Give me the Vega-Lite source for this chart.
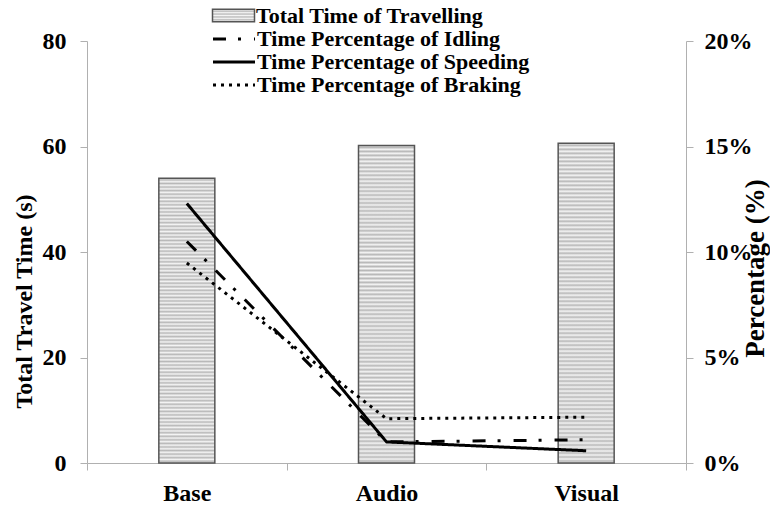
{
  "$schema": "https://vega.github.io/schema/vega-lite/v6.json",
  "width": 599,
  "height": 422,
  "autosize": "none",
  "padding": {"left": 87, "top": 41, "right": 84, "bottom": 44},
  "background": "white",
  "config": {
    "view": {"stroke": null},
    "font": "Liberation Serif",
    "axis": {
      "grid": false,
      "domainColor": "#b0b0b0",
      "tickColor": "#b0b0b0",
      "tickSize": 7,
      "labelFont": "Liberation Serif",
      "labelFontWeight": "bold",
      "labelFontSize": 24,
      "labelColor": "#000000",
      "titleFont": "Liberation Serif",
      "titleFontWeight": "bold",
      "titleFontSize": 24,
      "titleColor": "#000000"
    },
    "legend": {
      "labelFont": "Liberation Serif",
      "labelFontWeight": "bold",
      "labelFontSize": 22,
      "labelColor": "#000000",
      "labelLimit": 600
    }
  },
  "layer": [
    {
      "data": {
        "values": [
          {"cond": "Base", "time": 54.0, "label": "Total Time of Travelling"},
          {"cond": "Audio", "time": 60.2, "label": "Total Time of Travelling"},
          {"cond": "Visual", "time": 60.6, "label": "Total Time of Travelling"}
        ]
      },
      "mark": {
        "type": "bar",
        "width": 56,
        "strokeWidth": 1.5,
        "fill": {
          "gradient": "linear", "x1": 0, "y1": 0, "x2": 0, "y2": 1,
          "stops": [
            {"offset": 0, "color": "#f4f4f4"}, {"offset": 0.00625, "color": "#b8b8b8"}, {"offset": 0.0125, "color": "#f4f4f4"}, {"offset": 0.01875, "color": "#b8b8b8"}, {"offset": 0.025, "color": "#f4f4f4"}, {"offset": 0.03125, "color": "#b8b8b8"}, {"offset": 0.0375, "color": "#f4f4f4"}, {"offset": 0.04375, "color": "#b8b8b8"},
            {"offset": 0.05, "color": "#f4f4f4"}, {"offset": 0.05625, "color": "#b8b8b8"}, {"offset": 0.0625, "color": "#f4f4f4"}, {"offset": 0.06875, "color": "#b8b8b8"}, {"offset": 0.075, "color": "#f4f4f4"}, {"offset": 0.08125, "color": "#b8b8b8"}, {"offset": 0.0875, "color": "#f4f4f4"}, {"offset": 0.09375, "color": "#b8b8b8"},
            {"offset": 0.1, "color": "#f4f4f4"}, {"offset": 0.10625, "color": "#b8b8b8"}, {"offset": 0.1125, "color": "#f4f4f4"}, {"offset": 0.11875, "color": "#b8b8b8"}, {"offset": 0.125, "color": "#f4f4f4"}, {"offset": 0.13125, "color": "#b8b8b8"}, {"offset": 0.1375, "color": "#f4f4f4"}, {"offset": 0.14375, "color": "#b8b8b8"},
            {"offset": 0.15, "color": "#f4f4f4"}, {"offset": 0.15625, "color": "#b8b8b8"}, {"offset": 0.1625, "color": "#f4f4f4"}, {"offset": 0.16875, "color": "#b8b8b8"}, {"offset": 0.175, "color": "#f4f4f4"}, {"offset": 0.18125, "color": "#b8b8b8"}, {"offset": 0.1875, "color": "#f4f4f4"}, {"offset": 0.19375, "color": "#b8b8b8"},
            {"offset": 0.2, "color": "#f4f4f4"}, {"offset": 0.20625, "color": "#b8b8b8"}, {"offset": 0.2125, "color": "#f4f4f4"}, {"offset": 0.21875, "color": "#b8b8b8"}, {"offset": 0.225, "color": "#f4f4f4"}, {"offset": 0.23125, "color": "#b8b8b8"}, {"offset": 0.2375, "color": "#f4f4f4"}, {"offset": 0.24375, "color": "#b8b8b8"},
            {"offset": 0.25, "color": "#f4f4f4"}, {"offset": 0.25625, "color": "#b8b8b8"}, {"offset": 0.2625, "color": "#f4f4f4"}, {"offset": 0.26875, "color": "#b8b8b8"}, {"offset": 0.275, "color": "#f4f4f4"}, {"offset": 0.28125, "color": "#b8b8b8"}, {"offset": 0.2875, "color": "#f4f4f4"}, {"offset": 0.29375, "color": "#b8b8b8"},
            {"offset": 0.3, "color": "#f4f4f4"}, {"offset": 0.30625, "color": "#b8b8b8"}, {"offset": 0.3125, "color": "#f4f4f4"}, {"offset": 0.31875, "color": "#b8b8b8"}, {"offset": 0.325, "color": "#f4f4f4"}, {"offset": 0.33125, "color": "#b8b8b8"}, {"offset": 0.3375, "color": "#f4f4f4"}, {"offset": 0.34375, "color": "#b8b8b8"},
            {"offset": 0.35, "color": "#f4f4f4"}, {"offset": 0.35625, "color": "#b8b8b8"}, {"offset": 0.3625, "color": "#f4f4f4"}, {"offset": 0.36875, "color": "#b8b8b8"}, {"offset": 0.375, "color": "#f4f4f4"}, {"offset": 0.38125, "color": "#b8b8b8"}, {"offset": 0.3875, "color": "#f4f4f4"}, {"offset": 0.39375, "color": "#b8b8b8"},
            {"offset": 0.4, "color": "#f4f4f4"}, {"offset": 0.40625, "color": "#b8b8b8"}, {"offset": 0.4125, "color": "#f4f4f4"}, {"offset": 0.41875, "color": "#b8b8b8"}, {"offset": 0.425, "color": "#f4f4f4"}, {"offset": 0.43125, "color": "#b8b8b8"}, {"offset": 0.4375, "color": "#f4f4f4"}, {"offset": 0.44375, "color": "#b8b8b8"},
            {"offset": 0.45, "color": "#f4f4f4"}, {"offset": 0.45625, "color": "#b8b8b8"}, {"offset": 0.4625, "color": "#f4f4f4"}, {"offset": 0.46875, "color": "#b8b8b8"}, {"offset": 0.475, "color": "#f4f4f4"}, {"offset": 0.48125, "color": "#b8b8b8"}, {"offset": 0.4875, "color": "#f4f4f4"}, {"offset": 0.49375, "color": "#b8b8b8"},
            {"offset": 0.5, "color": "#f4f4f4"}, {"offset": 0.50625, "color": "#b8b8b8"}, {"offset": 0.5125, "color": "#f4f4f4"}, {"offset": 0.51875, "color": "#b8b8b8"}, {"offset": 0.525, "color": "#f4f4f4"}, {"offset": 0.53125, "color": "#b8b8b8"}, {"offset": 0.5375, "color": "#f4f4f4"}, {"offset": 0.54375, "color": "#b8b8b8"},
            {"offset": 0.55, "color": "#f4f4f4"}, {"offset": 0.55625, "color": "#b8b8b8"}, {"offset": 0.5625, "color": "#f4f4f4"}, {"offset": 0.56875, "color": "#b8b8b8"}, {"offset": 0.575, "color": "#f4f4f4"}, {"offset": 0.58125, "color": "#b8b8b8"}, {"offset": 0.5875, "color": "#f4f4f4"}, {"offset": 0.59375, "color": "#b8b8b8"},
            {"offset": 0.6, "color": "#f4f4f4"}, {"offset": 0.60625, "color": "#b8b8b8"}, {"offset": 0.6125, "color": "#f4f4f4"}, {"offset": 0.61875, "color": "#b8b8b8"}, {"offset": 0.625, "color": "#f4f4f4"}, {"offset": 0.63125, "color": "#b8b8b8"}, {"offset": 0.6375, "color": "#f4f4f4"}, {"offset": 0.64375, "color": "#b8b8b8"},
            {"offset": 0.65, "color": "#f4f4f4"}, {"offset": 0.65625, "color": "#b8b8b8"}, {"offset": 0.6625, "color": "#f4f4f4"}, {"offset": 0.66875, "color": "#b8b8b8"}, {"offset": 0.675, "color": "#f4f4f4"}, {"offset": 0.68125, "color": "#b8b8b8"}, {"offset": 0.6875, "color": "#f4f4f4"}, {"offset": 0.69375, "color": "#b8b8b8"},
            {"offset": 0.7, "color": "#f4f4f4"}, {"offset": 0.70625, "color": "#b8b8b8"}, {"offset": 0.7125, "color": "#f4f4f4"}, {"offset": 0.71875, "color": "#b8b8b8"}, {"offset": 0.725, "color": "#f4f4f4"}, {"offset": 0.73125, "color": "#b8b8b8"}, {"offset": 0.7375, "color": "#f4f4f4"}, {"offset": 0.74375, "color": "#b8b8b8"},
            {"offset": 0.75, "color": "#f4f4f4"}, {"offset": 0.75625, "color": "#b8b8b8"}, {"offset": 0.7625, "color": "#f4f4f4"}, {"offset": 0.76875, "color": "#b8b8b8"}, {"offset": 0.775, "color": "#f4f4f4"}, {"offset": 0.78125, "color": "#b8b8b8"}, {"offset": 0.7875, "color": "#f4f4f4"}, {"offset": 0.79375, "color": "#b8b8b8"},
            {"offset": 0.8, "color": "#f4f4f4"}, {"offset": 0.80625, "color": "#b8b8b8"}, {"offset": 0.8125, "color": "#f4f4f4"}, {"offset": 0.81875, "color": "#b8b8b8"}, {"offset": 0.825, "color": "#f4f4f4"}, {"offset": 0.83125, "color": "#b8b8b8"}, {"offset": 0.8375, "color": "#f4f4f4"}, {"offset": 0.84375, "color": "#b8b8b8"},
            {"offset": 0.85, "color": "#f4f4f4"}, {"offset": 0.85625, "color": "#b8b8b8"}, {"offset": 0.8625, "color": "#f4f4f4"}, {"offset": 0.86875, "color": "#b8b8b8"}, {"offset": 0.875, "color": "#f4f4f4"}, {"offset": 0.88125, "color": "#b8b8b8"}, {"offset": 0.8875, "color": "#f4f4f4"}, {"offset": 0.89375, "color": "#b8b8b8"},
            {"offset": 0.9, "color": "#f4f4f4"}, {"offset": 0.90625, "color": "#b8b8b8"}, {"offset": 0.9125, "color": "#f4f4f4"}, {"offset": 0.91875, "color": "#b8b8b8"}, {"offset": 0.925, "color": "#f4f4f4"}, {"offset": 0.93125, "color": "#b8b8b8"}, {"offset": 0.9375, "color": "#f4f4f4"}, {"offset": 0.94375, "color": "#b8b8b8"},
            {"offset": 0.95, "color": "#f4f4f4"}, {"offset": 0.95625, "color": "#b8b8b8"}, {"offset": 0.9625, "color": "#f4f4f4"}, {"offset": 0.96875, "color": "#b8b8b8"}, {"offset": 0.975, "color": "#f4f4f4"}, {"offset": 0.98125, "color": "#b8b8b8"}, {"offset": 0.9875, "color": "#f4f4f4"}, {"offset": 0.99375, "color": "#b8b8b8"},
            {"offset": 1, "color": "#f4f4f4"}
          ]
        }
      },
      "encoding": {
        "x": {
          "field": "cond",
          "type": "nominal",
          "sort": ["Base", "Audio", "Visual"],
          "scale": {"paddingInner": 0, "paddingOuter": 0},
          "axis": {"title": null, "tickBand": "extent", "labelAngle": 0, "labelPadding": 11}
        },
        "y": {
          "field": "time",
          "type": "quantitative",
          "scale": {"domain": [0, 80]},
          "axis": {
            "values": [0, 20, 40, 60, 80],
            "title": "Total Travel Time (s)",
            "titleAngle": -90,
            "titleX": -63,
            "titleY": 260,
            "titleAlign": "center",
            "titleBaseline": "middle",
            "labelPadding": 14
          }
        },
        "stroke": {
          "field": "label",
          "type": "nominal",
          "scale": {"range": ["#555555"]},
          "legend": {
            "title": null,
            "orient": "none",
            "legendX": 135,
            "legendY": -37,
            "symbolType": "M-2,-0.6H2V0.6H-2Z",
            "symbolSize": 441,
            "symbolStrokeWidth": 1.5,
            "labelOffset": 11,
            "encode": {
              "symbols": {
                "update": {
                  "fill": {
                    "value": {
                      "gradient": "linear", "x1": 0, "y1": 0, "x2": 0, "y2": 1,
                      "stops": [
                        {"offset": 0, "color": "#f4f4f4"}, {"offset": 0.1, "color": "#b8b8b8"}, {"offset": 0.2, "color": "#f4f4f4"}, {"offset": 0.3, "color": "#b8b8b8"}, {"offset": 0.4, "color": "#f4f4f4"}, {"offset": 0.5, "color": "#b8b8b8"}, {"offset": 0.6, "color": "#f4f4f4"}, {"offset": 0.7, "color": "#b8b8b8"}, {"offset": 0.8, "color": "#f4f4f4"}, {"offset": 0.9, "color": "#b8b8b8"}, {"offset": 1, "color": "#f4f4f4"}
                      ]
                    }
                  }
                }
              }
            }
          }
        }
      }
    },
    {
      "data": {
        "values": [
          {"cond": "Base", "series": "Time Percentage of Idling", "pct": 0.105},
          {"cond": "Audio", "series": "Time Percentage of Idling", "pct": 0.010},
          {"cond": "Visual", "series": "Time Percentage of Idling", "pct": 0.011},
          {"cond": "Base", "series": "Time Percentage of Speeding", "pct": 0.123},
          {"cond": "Audio", "series": "Time Percentage of Speeding", "pct": 0.010},
          {"cond": "Visual", "series": "Time Percentage of Speeding", "pct": 0.0058},
          {"cond": "Base", "series": "Time Percentage of Braking", "pct": 0.0948},
          {"cond": "Audio", "series": "Time Percentage of Braking", "pct": 0.021},
          {"cond": "Visual", "series": "Time Percentage of Braking", "pct": 0.0217}
        ]
      },
      "mark": {"type": "line", "strokeWidth": 3, "color": "#000000"},
      "encoding": {
        "x": {"field": "cond", "type": "nominal", "sort": ["Base", "Audio", "Visual"]},
        "y": {
          "field": "pct",
          "type": "quantitative",
          "scale": {"domain": [0, 0.2]},
          "axis": {
            "orient": "right",
            "values": [0, 0.05, 0.1, 0.15, 0.2],
            "format": ".0%",
            "title": "Percentage (%)",
            "titleFontSize": 27,
            "titleAngle": -90,
            "titleX": 69,
            "titleY": 227,
            "titleAlign": "center",
            "titleBaseline": "middle",
            "labelPadding": 11
          }
        },
        "strokeDash": {
          "field": "series",
          "type": "nominal",
          "scale": {
            "domain": ["Time Percentage of Idling", "Time Percentage of Speeding", "Time Percentage of Braking"],
            "range": [[13, 12, 3, 13], [1, 0], [3, 5]]
          },
          "legend": {
            "title": null,
            "orient": "none",
            "legendX": 135,
            "legendY": -14,
            "symbolType": "M-2,0H2",
            "symbolSize": 441,
            "symbolStrokeWidth": 3,
            "symbolStrokeColor": "#000000",
            "symbolFillColor": "transparent",
            "labelOffset": 11,
            "rowPadding": 0
          }
        }
      }
    }
  ],
  "resolve": {"scale": {"y": "independent", "stroke": "independent"}}
}
